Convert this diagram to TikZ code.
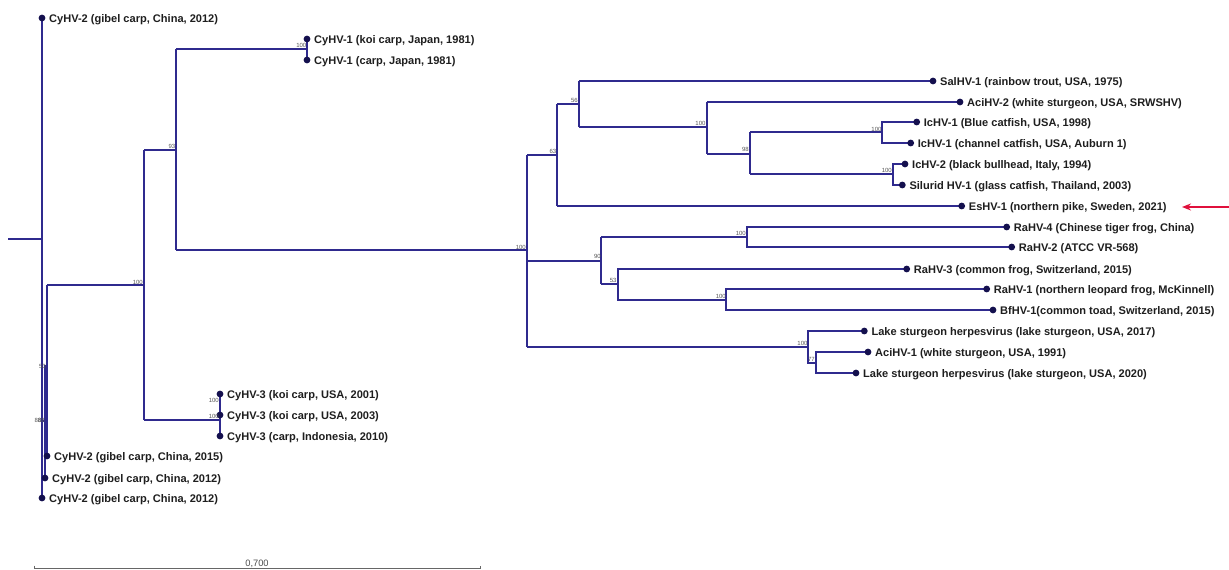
\documentclass[tikz,border=0pt]{standalone}
\usepackage{fontspec}
\usetikzlibrary{arrows.meta}
\setmainfont{Liberation Sans}
\definecolor{branch}{HTML}{2F2A8E}
\definecolor{tipdot}{HTML}{14104E}
\definecolor{tiptext}{HTML}{1E1E1E}
\definecolor{support}{HTML}{555555}
\definecolor{pointer}{HTML}{E0103C}
\tikzset{
 x=1pt,y=-1pt,
 br/.style={draw=branch,line width=1.8pt,line join=miter},
 tip/.style={circle,fill=tipdot,inner sep=0pt,minimum size=6.8pt},
 tiplabel/.style={anchor=west,inner sep=0pt,text=tiptext,font=\fontsize{11.05}{13}\selectfont\bfseries},
 sup/.style={anchor=south east,inner sep=0pt,text=support,font=\fontsize{6}{6}\selectfont},
 scalebar/.style={draw=black!60,line width=1pt}
}
\newcommand{\tipat}[4]{\node[tip] (#1) at (#2,#3) {};\node[tiplabel] (#1t) at (#2+7,#3+1.2) {#4};}
\begin{document}
\begin{tikzpicture}
\useasboundingbox (0,0) rectangle (1229,570);
% internal nodes
\coordinate (root) at (8,239);
\coordinate (a) at (42,239);
\coordinate (b) at (45,421);
\coordinate (c) at (47,366);
\coordinate (d) at (144,285);
\coordinate (e) at (176,150);
\coordinate (f) at (307,49);
\coordinate (g) at (527,250);
\coordinate (h) at (557,155);
\coordinate (i) at (579,104);
\coordinate (j) at (707,127);
\coordinate (k) at (750,154);
\coordinate (m) at (882,132);
\coordinate (n) at (893,174);
\coordinate (o) at (601,261);
\coordinate (p) at (747,237);
\coordinate (q) at (618,284);
\coordinate (r) at (726,300);
\coordinate (s) at (808,347);
\coordinate (t) at (816,363);
\coordinate (u) at (220,420);
% branches
\draw[br,line width=1.2pt] (root) -- (a);
\draw[br] (42,18) -- (42,498);
\draw[br] (42,421) -- (b) |- (c);
\draw[br] (b) -- (45,478);
\draw[br] (47,285) -- (47,456);
\draw[br] (47,285) -- (d);
\draw[br] (144,150) -- (144,420);
\draw[br] (144,150) -- (e);
\draw[br] (144,420) -- (u);
\draw[br] (176,49) -- (176,250);
\draw[br] (176,49) -- (f);
\draw[br] (307,39) -- (307,60);
\draw[br] (176,250) -- (g);
\draw[br] (527,155) -- (527,347);
\draw[br] (527,155) -- (h);
\draw[br] (557,104) -- (557,206);
\draw[br] (557,206) -- (961.7,206);
\draw[br] (557,104) -- (i);
\draw[br] (579,81) -- (579,127);
\draw[br] (579,81) -- (933,81);
\draw[br] (579,127) -- (j);
\draw[br] (707,102) -- (707,154);
\draw[br] (707,102) -- (960,102);
\draw[br] (707,154) -- (k);
\draw[br] (750,132) -- (750,174);
\draw[br] (750,132) -- (m);
\draw[br] (750,174) -- (n);
\draw[br] (916.7,122) -| (882,143) -- (910.7,143);
\draw[br] (905,164) -| (893,185) -- (902.3,185);
\draw[br] (527,261) -- (o);
\draw[br] (601,237) -- (601,284);
\draw[br] (601,237) -- (p);
\draw[br] (1006.7,227) -| (747,247) -- (1011.7,247);
\draw[br] (601,284) -- (q);
\draw[br] (906.7,269) -| (618,300) -- (r);
\draw[br] (986.7,289) -| (726,310) -- (993,310);
\draw[br] (527,347) -- (s);
\draw[br] (864.3,331) -| (808,363) -- (t);
\draw[br] (868,352) -| (816,373) -- (856,373);
\draw[br] (220,394) -- (220,436);
% tips
\tipat{l1}{42}{18}{CyHV-2 (gibel carp, China, 2012)}
\tipat{l2}{307}{39}{CyHV-1 (koi carp, Japan, 1981)}
\tipat{l3}{307}{60}{CyHV-1 (carp, Japan, 1981)}
\tipat{l4}{933}{81}{SalHV-1 (rainbow trout, USA, 1975)}
\tipat{l5}{960}{102}{AciHV-2 (white sturgeon, USA, SRWSHV)}
\tipat{l6}{916.7}{122}{IcHV-1 (Blue catfish, USA, 1998)}
\tipat{l7}{910.7}{143}{IcHV-1 (channel catfish, USA, Auburn 1)}
\tipat{l8}{905}{164}{IcHV-2 (black bullhead, Italy, 1994)}
\tipat{l9}{902.3}{185}{Silurid HV-1 (glass catfish, Thailand, 2003)}
\tipat{l10}{961.7}{206}{EsHV-1 (northern pike, Sweden, 2021)}
\tipat{l11}{1006.7}{227}{RaHV-4 (Chinese tiger frog, China)}
\tipat{l12}{1011.7}{247}{RaHV-2 (ATCC VR-568)}
\tipat{l13}{906.7}{269}{RaHV-3 (common frog, Switzerland, 2015)}
\tipat{l14}{986.7}{289}{RaHV-1 (northern leopard frog, McKinnell)}
\tipat{l15}{993}{310}{BfHV-1(common toad, Switzerland, 2015)}
\tipat{l16}{864.3}{331}{Lake sturgeon herpesvirus (lake sturgeon, USA, 2017)}
\tipat{l17}{868}{352}{AciHV-1 (white sturgeon, USA, 1991)}
\tipat{l18}{856}{373}{Lake sturgeon herpesvirus (lake sturgeon, USA, 2020)}
\tipat{l19}{220}{394}{CyHV-3 (koi carp, USA, 2001)}
\tipat{l20}{220}{415}{CyHV-3 (koi carp, USA, 2003)}
\tipat{l21}{220}{436}{CyHV-3 (carp, Indonesia, 2010)}
\tipat{l22}{47}{456}{CyHV-2 (gibel carp, China, 2015)}
\tipat{l23}{45}{478}{CyHV-2 (gibel carp, China, 2012)}
\tipat{l24}{42}{498}{CyHV-2 (gibel carp, China, 2012)}
% support values
\node[sup] (s1) at (143,285) {100};
\node[sup] (s2) at (175.5,149) {93};
\node[sup] (s3) at (306.5,48) {100};
\node[sup] (s4) at (526,249.5) {100};
\node[sup] (s5) at (556.5,153.5) {63};
\node[sup] (s6) at (578,102.5) {56};
\node[sup] (s7) at (705.7,126) {100};
\node[sup] (s8) at (749,152) {98};
\node[sup] (s9) at (881.7,131.5) {100};
\node[sup] (s10) at (892,172.5) {100};
\node[sup] (s11) at (746,235.5) {100};
\node[sup] (s12) at (601,259) {90};
\node[sup] (s13) at (616.7,283) {53};
\node[sup] (s14) at (726,298.5) {100};
\node[sup] (s15) at (807.7,346) {100};
\node[sup] (s16) at (815,362) {77};
\node[sup] (s17) at (219,403) {100};
\node[sup] (s18) at (219,419) {100};
\node[sup] (s19) at (46,369) {53};
\node[sup] (s20) at (45,423) {88};
\node[sup] (s21) at (41.5,423) {88};
% scale
\coordinate (sa) at (34.5,568.5);
\coordinate (sb) at (480,568.5);
\draw[scalebar] (34.5,565.5) -- (sa) -- (sb) -- (480,565.5);
\node[anchor=south,inner sep=0pt,text=black!70,font=\fontsize{9.3}{10}\selectfont] (scale) at (257,567.5) {0,700};
% pointer
\coordinate (pa) at (1229,207);
\coordinate (pb) at (1182,207);
\draw[draw=pointer,line width=1.6pt,-{Stealth[length=9pt,width=7pt]}] (pa) -- (pb);
\end{tikzpicture}
\end{document}
